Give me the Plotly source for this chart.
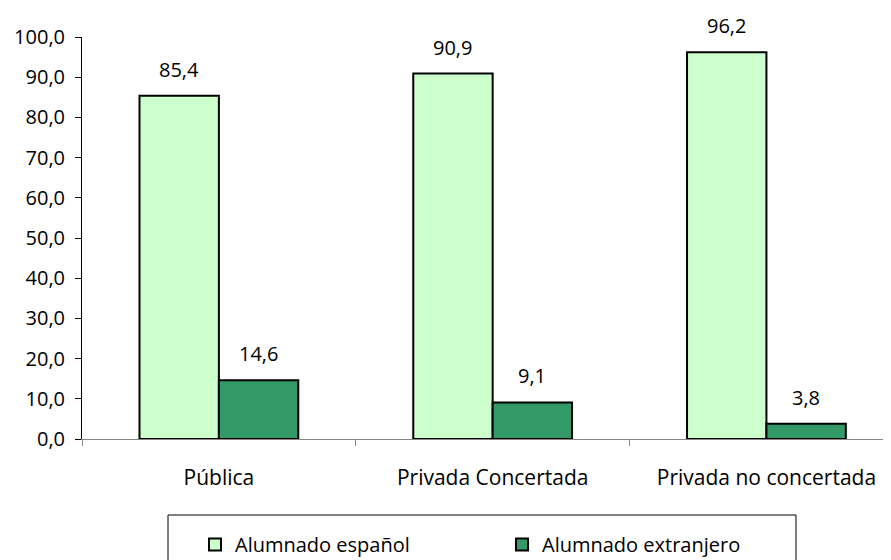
import plotly.graph_objects as go

categories = ["Pública", "Privada Concertada", "Privada no concertada"]
series_names = ["Alumnado español", "Alumnado extranjero"]
espanol = [85.4, 90.9, 96.2]
extranjero = [14.6, 9.1, 3.8]
y_ticks = [0, 10, 20, 30, 40, 50, 60, 70, 80, 90, 100]
colors = ["#CCFFCC", "#339966"]

FONT = "Open Sans"

fig = go.Figure()
for name, vals, col in zip(series_names, [espanol, extranjero], colors):
    fig.add_trace(go.Bar(
        x=categories, y=vals, name=name,
        marker=dict(color=col, line=dict(color="black", width=2)),
    ))

# page body has an 8px margin, so the figure is 8px smaller than the window
W, H = 883, 552
ml, mr, mt, mb = 74, 0, 29, 121
xrange_ = [-0.5, 2.455]
bargap = 0.42
PW = W - ml - mr
PH = H - mt - mb
pxu = PW / (xrange_[1] - xrange_[0])
off = (1 - bargap) / 4 * pxu

annotations = []
for vals, sign in [(espanol, -1), (extranjero, 1)]:
    for c, v in zip(categories, vals):
        annotations.append(dict(
            x=c, y=v, xref="x", yref="y", text=f"{v:.1f}".replace(".", ","),
            showarrow=False, yanchor="bottom", xshift=sign * off, yshift=11,
            font=dict(family=FONT, size=20, color="black"),
        ))

fig.update_layout(
    width=W, height=H,
    margin=dict(l=ml, r=mr, t=mt, b=mb),
    paper_bgcolor="white", plot_bgcolor="white",
    separators=",.",
    barmode="group", bargap=bargap, bargroupgap=0,
    font=dict(family=FONT, size=20, color="black"),
    annotations=annotations,
    showlegend=True,
    legend=dict(
        orientation="h", xref="container", yref="container",
        x=187 / W, y=1 - 517 / H, xanchor="left", yanchor="top",
        entrywidth=262, entrywidthmode="pixels",
        font=dict(family=FONT, size=20, color="black"),
        bgcolor="rgba(0,0,0,0)", borderwidth=0,
    ),
    shapes=[dict(type="rect", xref="paper", yref="paper",
                 x0=(168 - 82) / PW, x1=(796 - 82) / PW,
                 y0=(439 - 515) / PH, y1=(439 - 580) / PH,
                 line=dict(color="black", width=1), fillcolor="rgba(0,0,0,0)")],
    xaxis=dict(
        range=xrange_, showgrid=False, showline=True, linecolor="#868686", linewidth=1,
        ticks="outside", tickson="boundaries", ticklen=6, tickcolor="#868686",
        ticklabelstandoff=20, tickfont=dict(family=FONT, size=21, color="black"),
        zeroline=False,
    ),
    yaxis=dict(
        range=[0, 100], tickvals=y_ticks, tickformat=".1f", showgrid=False,
        showline=True, linecolor="black", linewidth=1,
        ticks="outside", ticklen=6, tickcolor="black", ticklabelstandoff=6,
        tickfont=dict(family=FONT, size=20, color="black"), zeroline=False,
    ),
)

fig.write_html("out.html")
